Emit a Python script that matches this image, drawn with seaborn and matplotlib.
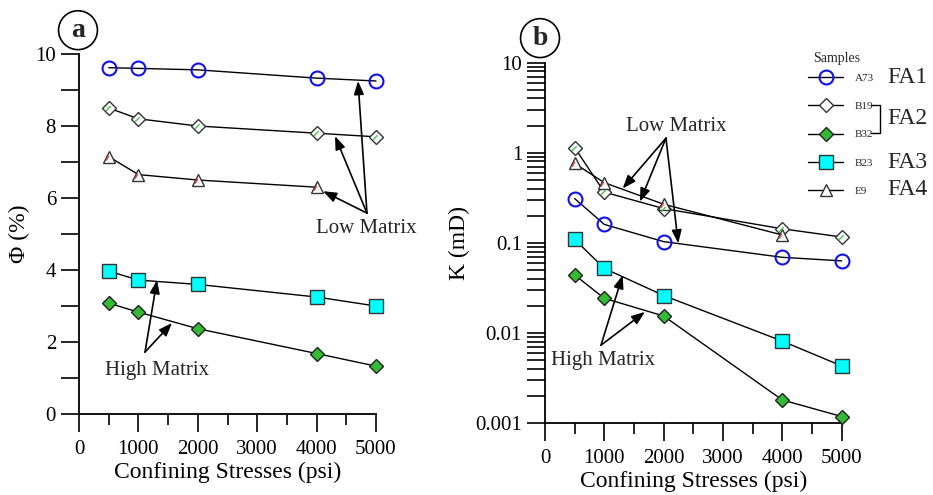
import numpy as np
import matplotlib
matplotlib.use("Agg")
import matplotlib.pyplot as plt
from matplotlib.lines import Line2D
from matplotlib.path import Path
from matplotlib.ticker import MultipleLocator, LogLocator, NullFormatter, FixedLocator
import seaborn as sns

# Data
stress = [500, 1000, 2000, 4000, 5000]
samples = ["A73", "B19", "B32", "B23", "E9"]

phi_a73 = [9.62, 9.60, 9.56, 9.33, 9.25]
phi_b19 = [8.50, 8.20, 8.00, 7.80, 7.70]
phi_b32 = [3.08, 2.83, 2.37, 1.68, 1.33]
phi_b23 = [3.97, 3.72, 3.60, 3.25, 3.00]
phi_e9 = [7.15, 6.65, 6.50, 6.30]

k_a73 = [0.31, 0.16, 0.103, 0.069, 0.063]
k_b19 = [1.14, 0.365, 0.24, 0.143, 0.116]
k_b32 = [0.044, 0.0242, 0.0154, 0.0018, 0.00118]
k_b23 = [0.109, 0.052, 0.026, 0.0081, 0.0043]
k_e9 = [0.76, 0.465, 0.268, 0.122]

# marker styling per sample
styles = {
    "A73": dict(marker="o", markersize=10, markerfacecolor="none", markeredgecolor="#1010ee", markeredgewidth=1.5),
    "B19": dict(marker="D", markersize=7.5, markerfacecolor="white", markeredgecolor="#333333", markeredgewidth=1),
    "B32": dict(marker="D", markersize=7.5, markerfacecolor="#33bb33", markeredgecolor="#222222", markeredgewidth=1),
    "B23": dict(marker="s", markersize=10, markerfacecolor="#00ffff", markeredgecolor="#333333", markeredgewidth=1),
    "E9": dict(marker="^", markersize=9, markerfacecolor="white", markeredgecolor="#333333", markeredgewidth=1),
}
# small coloured strokes inside the open diamond / triangle
diamond_stroke = Path([(-0.9, -0.6), (0.3, 0.6)])
tri_stroke = Path([(-1.0, -0.9), (-0.2, 0.5)])

sns.set_style("ticks")
plt.rcParams["font.family"] = ["Liberation Serif", "DejaVu Serif"]
plt.rcParams["mathtext.fontset"] = "stix"

fig = plt.figure(figsize=(9.33, 4.95), dpi=100)
ax1 = fig.add_axes([0.0847, 0.1636, 0.3183, 0.7273])
ax2 = fig.add_axes([0.5841, 0.1455, 0.3180, 0.7280])


def draw(ax, data):
    for name, vals in data.items():
        xs = stress[:len(vals)]
        sns.lineplot(x=xs, y=vals, ax=ax, color="black", linewidth=1, clip_on=False,
                     zorder=3, **styles[name])
        if name == "B19":
            ax.plot(xs, vals, ls="none", marker=diamond_stroke, markersize=5,
                    markeredgecolor="#44cc44", markeredgewidth=1, clip_on=False, zorder=4)
        if name == "E9":
            ax.plot(xs, vals, ls="none", marker=tri_stroke, markersize=5,
                    markeredgecolor="#ee3333", markeredgewidth=1, clip_on=False, zorder=4)


draw(ax1, {"A73": phi_a73, "B19": phi_b19, "E9": phi_e9, "B23": phi_b23, "B32": phi_b32})
draw(ax2, {"A73": k_a73, "B19": k_b19, "E9": k_e9, "B23": k_b23, "B32": k_b32})

for ax in (ax1, ax2):
    sns.despine(ax=ax)
    ax.set_xlim(0, 5000)
    ax.xaxis.set_major_locator(MultipleLocator(1000))
    ax.xaxis.set_minor_locator(MultipleLocator(500))
    ax.tick_params(axis="both", which="major", direction="out", length=13, width=1.2,
                   labelsize=15, color="black", labelcolor="black")
    ax.tick_params(axis="x", which="major", pad=6)
    ax.tick_params(axis="x", which="minor", direction="out", length=8, width=1.2, color="black")
    ax.tick_params(axis="y", which="minor", direction="out", length=13, width=1.2, color="black")
    for s in ("left", "bottom"):
        ax.spines[s].set_linewidth(1.3)
        ax.spines[s].set_color("black")
    ax.set_xlabel("Confining Stresses (psi)", fontsize=17, color="black", labelpad=2)
    ax.grid(False)

ax1.set_ylim(0, 10)
ax1.yaxis.set_major_locator(MultipleLocator(2))
ax1.yaxis.set_minor_locator(MultipleLocator(1))
ax1.set_ylabel("Φ (%)", fontsize=17, color="black")

ax2.set_yscale("log")
ax2.set_ylim(0.001, 10)
ax2.yaxis.set_major_locator(FixedLocator([0.001, 0.01, 0.1, 1, 10]))
ax2.set_yticklabels(["0.001", "0.01", "0.1", "1", "10"])
ax2.yaxis.set_minor_locator(LogLocator(base=10, subs=np.arange(2, 10), numticks=20))
ax2.yaxis.set_minor_formatter(NullFormatter())
ax2.set_ylabel("K (mD)", fontsize=17, color="black")

arrow = dict(arrowstyle="-|>,head_length=0.8,head_width=0.3", color="black", lw=1.2,
             shrinkA=0, shrinkB=0)

# panel a annotations
for tip in [(4697, 9.25), (4310, 7.72), (4108, 6.19)]:
    ax1.annotate("", xy=tip, xytext=(4848, 5.58), arrowprops=arrow, annotation_clip=False)
ax1.text(4832, 5.14, "Low Matrix", fontsize=15, ha="center", va="center", clip_on=False)
for tip in [(1313, 3.72), (1566, 2.53)]:
    ax1.annotate("", xy=tip, xytext=(1111, 1.72), arrowprops=arrow)
ax1.text(1313, 1.22, "High Matrix", fontsize=15, ha="center", va="center")

# panel b annotations
for tip in [(1309, 0.40), (1601, 0.286), (2246, 0.0985)]:
    ax2.annotate("", xy=tip, xytext=(2039, 1.45), arrowprops=arrow)
ax2.text(2208, 1.93, "Low Matrix", fontsize=15, ha="center", va="center")
for tip in [(1309, 0.0438), (1685, 0.0171)]:
    ax2.annotate("", xy=tip, xytext=(944, 0.0073), arrowprops=arrow)
ax2.text(977, 0.00497, "High Matrix", fontsize=15, ha="center", va="center")

# panel letters
circ = dict(boxstyle="circle,pad=0.25", fc="white", ec="black", lw=1.2)
fig.text(0.0836, 0.939, "a", fontsize=20, fontweight="bold", ha="center", va="center", bbox=circ)
fig.text(0.5788, 0.923, "b", fontsize=20, fontweight="bold", ha="center", va="center", bbox=circ)

# legend
handles = [Line2D([0], [0], color="black", lw=1, **styles[s]) for s in samples]
fig.legend(handles, samples, loc="upper left", bbox_to_anchor=(0.861, 0.8606),
           frameon=False, fontsize=8, handlelength=3.2, handletextpad=1.0,
           labelspacing=1.65, borderaxespad=0)
fig.text(0.8714, 0.8828, "Samples", fontsize=10, va="center", ha="left")

fa_y = {"FA1": 0.8444, "FA2": 0.7596, "FA3": 0.6727, "FA4": 0.6162}
for lab, y in fa_y.items():
    fig.text(0.9507, y, lab, fontsize=17, va="center", ha="left")
fig.add_artist(Line2D([0.9335, 0.9432, 0.9432, 0.9335], [0.7879, 0.7879, 0.7313, 0.7313],
                      color="black", lw=1, transform=fig.transFigure))

fig.savefig("out.png", dpi=100)
